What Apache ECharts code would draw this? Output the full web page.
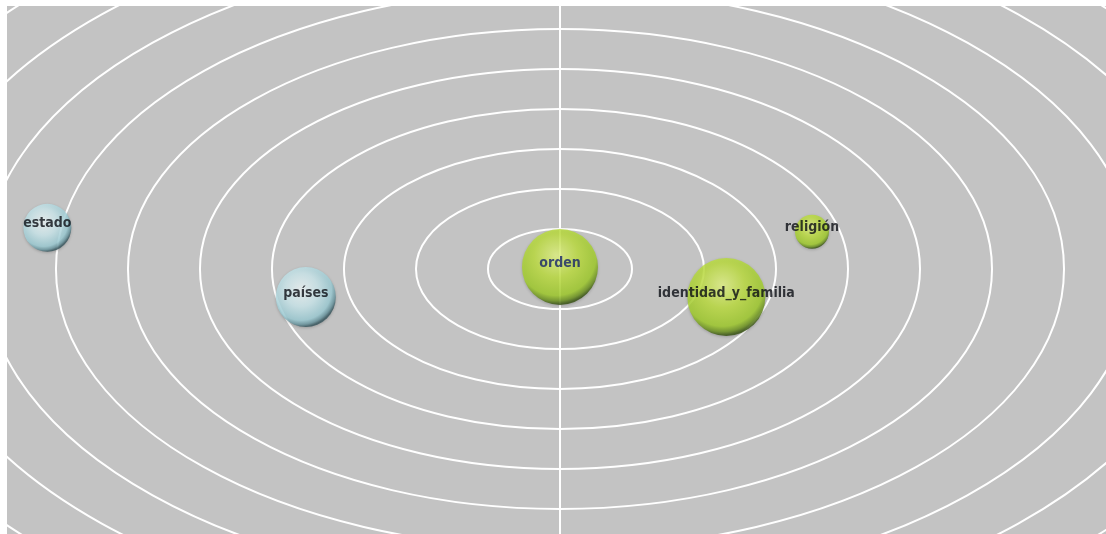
<!DOCTYPE html>
<html>
<head>
<meta charset="utf-8">
<title>orden</title>
<script src="https://cdn.jsdelivr.net/npm/echarts@6/dist/echarts.min.js"></script>
<style>
  html, body { margin: 0; padding: 0; background: #ffffff; }
  #chart { width: 1106px; height: 534px; }
</style>
</head>
<body>
<div id="chart"></div>
<script>
// concepts placed around the centre; x/y in ring units, weight drives bubble size
const names = ['estado', 'países', 'orden', 'identidad_y_familia', 'religión'];
const xValues = [-7.12, -3.53, 0, 2.31, 3.5];
const yValues = [1.03, -0.7, 0.05, -0.7, 0.93];
const weights = [2.4, 3.0, 3.8, 3.9, 1.7];
const groups = ['azul', 'azul', 'verde', 'verde', 'verde'];
const rings = [1, 2, 3, 4, 5, 6, 7, 8, 9, 10];

document.addEventListener('DOMContentLoaded', function() {
  const chart = echarts.init(document.getElementById('chart'));

  const blueBall = {
    type: 'radial', x: 0.42, y: 0.38, r: 0.62,
    colorStops: [
      { offset: 0, color: '#f4fcfd' },
      { offset: 0.45, color: '#d0edf2' },
      { offset: 0.82, color: '#9fd0d9' },
      { offset: 0.93, color: '#6a98a2' },
      { offset: 1, color: '#34545c' }
    ]
  };
  const greenBall = {
    type: 'radial', x: 0.45, y: 0.35, r: 0.64,
    colorStops: [
      { offset: 0, color: '#e6f887' },
      { offset: 0.45, color: '#c0e23e' },
      { offset: 0.82, color: '#a2cf28' },
      { offset: 0.93, color: '#6c941a' },
      { offset: 1, color: '#34500c' }
    ]
  };

  const points = names.map(function(n, i) {
    return {
      name: n,
      value: [xValues[i], yValues[i], weights[i]],
      itemStyle: { color: groups[i] === 'azul' ? blueBall : greenBall },
      label: { color: n === 'orden' ? '#16246a' : '#0b0e14' }
    };
  });

  const option = {
    animation: false,
    backgroundColor: '#ffffff',
    grid: {
      left: 7, right: 0, top: 6, bottom: 0,
      show: true,
      backgroundColor: '#c3c3c3',
      borderWidth: 0
    },
    xAxis: {
      type: 'value',
      min: -7.68, max: 7.583,
      axisLine: { show: false },
      axisTick: { show: false },
      axisLabel: { show: false },
      splitLine: { show: false }
    },
    yAxis: {
      type: 'value',
      min: -6.625, max: 6.575,
      axisLine: { show: true, onZero: true, lineStyle: { color: '#ffffff', width: 2 } },
      axisTick: { show: false },
      axisLabel: { show: false },
      splitLine: { show: false }
    },
    series: [
      {
        name: 'anillos',
        type: 'custom',
        clip: true,
        silent: true,
        z: 1,
        data: rings.map(function(r) { return [r, 0]; }),
        renderItem: function(params, api) {
          const c = api.coord([0, 0]);
          const s = api.size([api.value(0), api.value(0)]);
          return {
            type: 'ellipse',
            shape: { cx: c[0], cy: c[1], rx: s[0], ry: s[1] },
            style: { fill: null, stroke: '#ffffff', lineWidth: 2 }
          };
        }
      },
      {
        name: 'conceptos',
        type: 'scatter',
        z: 3,
        symbolSize: function(v) { return v[2] * 20; },
        itemStyle: { shadowBlur: 3, shadowColor: 'rgba(0,0,0,0.25)', shadowOffsetY: 1 },
        label: {
          show: true,
          position: 'inside',
          offset: [0, -4],
          formatter: '{b}',
          fontFamily: 'DejaVu Sans Condensed',
          fontWeight: 'bold',
          fontSize: 14
        },
        data: points
      }
    ]
  };
  chart.setOption(option);
});
</script>
</body>
</html>
